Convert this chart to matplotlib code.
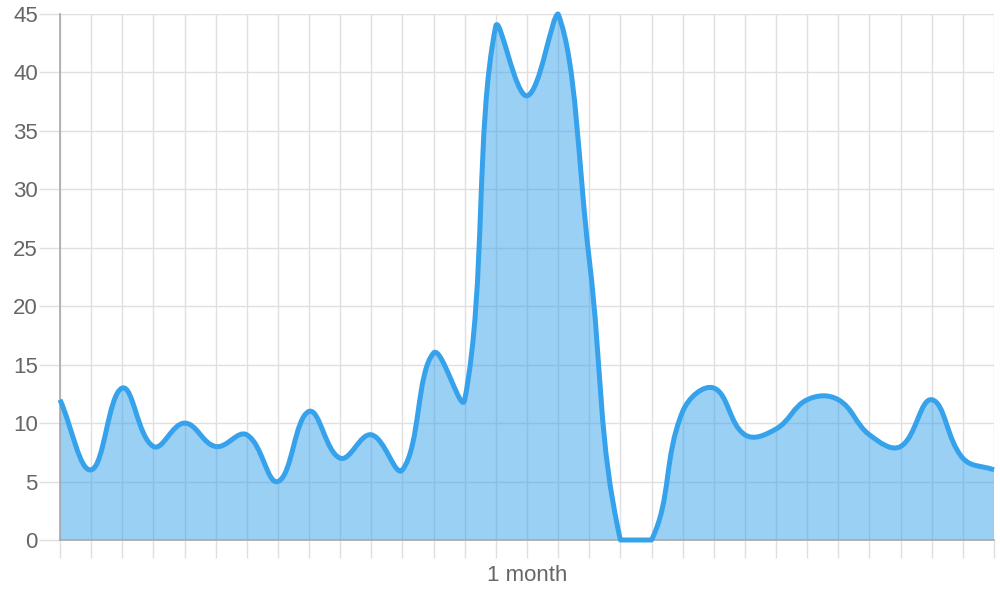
import numpy as np
import matplotlib
matplotlib.use("Agg")
import matplotlib.pyplot as plt
from matplotlib.path import Path
from matplotlib.patches import PathPatch

plt.rcParams['font.family'] = ['Liberation Sans', 'DejaVu Sans']

# Daily values (31 days)
days = list(range(31))
values = [12, 6, 13, 8, 10, 8, 9, 5, 11, 7, 9, 6, 16, 12, 44, 38, 45, 24,
          0, 0, 11, 13, 9, 9.5, 12, 12, 9, 8, 12, 7, 6]
y_ticks = [0, 5, 10, 15, 20, 25, 30, 35, 40, 45]
x_label_day = 15
x_label_text = "1 month"

line_color = '#36a2eb'
grid_color = '#e0e0e0'
axis_color = '#a8a8a8'
text_color = '#666666'

fig = plt.figure(figsize=(10, 6), dpi=100)
ax = fig.add_axes([0.06, 0.1, 0.934, 0.87667])
ax.set_xlim(0, 30)
ax.set_ylim(0, 45)

# pixel scale so the spline tension behaves like it does on screen
sx = 934 / 30
sy = 526 / 45


def spline_path(xs, ys, tension=0.4):
    px = np.asarray(xs, float) * sx
    py = np.asarray(ys, float) * sy
    n = len(px)
    cp_prev = np.zeros((n, 2))
    cp_next = np.zeros((n, 2))
    for i in range(n):
        a = max(i - 1, 0)
        b = min(i + 1, n - 1)
        d01 = np.hypot(px[i] - px[a], py[i] - py[a])
        d12 = np.hypot(px[b] - px[i], py[b] - py[i])
        tot = d01 + d12
        s01 = d01 / tot if tot else 0
        s12 = d12 / tot if tot else 0
        fa, fb = tension * s01, tension * s12
        dx, dy = px[b] - px[a], py[b] - py[a]
        cp_prev[i] = (px[i] - fa * dx, py[i] - fa * dy)
        cp_next[i] = (px[i] + fb * dx, py[i] + fb * dy)
    # keep control points inside the chart area
    for cp in (cp_prev, cp_next):
        cp[:, 0] = np.clip(cp[:, 0], 0, 30 * sx)
        cp[:, 1] = np.clip(cp[:, 1], 0, 45 * sy)
    verts = [(px[0], py[0])]
    codes = [Path.MOVETO]
    for i in range(1, n):
        verts += [tuple(cp_next[i - 1]), tuple(cp_prev[i]), (px[i], py[i])]
        codes += [Path.CURVE4] * 3
    verts = np.array(verts)
    verts[:, 0] /= sx
    verts[:, 1] /= sy
    return verts, codes


verts, codes = spline_path(days, values)

# area fill down to zero
fill_verts = np.vstack([verts, [[days[-1], 0], [days[0], 0], [days[0], values[0]]]])
fill_codes = codes + [Path.LINETO, Path.LINETO, Path.CLOSEPOLY]
ax.add_patch(PathPatch(Path(fill_verts, fill_codes), facecolor=line_color,
                       alpha=0.5, edgecolor='none', zorder=2))
ax.add_patch(PathPatch(Path(verts, codes), facecolor='none', edgecolor=line_color,
                       linewidth=3.6, capstyle='butt', joinstyle='round',
                       zorder=3, clip_on=False))

# grid and axes
ax.set_axisbelow(True)
ax.grid(True, color=grid_color, linewidth=1)
ax.set_yticks(y_ticks)
ax.set_xticks(days)
ax.set_xticklabels([x_label_text if d == x_label_day else '' for d in days])
ax.tick_params(axis='y', length=15, width=1, color=grid_color, pad=1,
               labelsize=16, labelcolor=text_color)
ax.tick_params(axis='x', length=13, width=1, color=grid_color, pad=5,
               labelsize=16, labelcolor=text_color)
ax.yaxis.get_major_ticks()[0].tick1line.set_color(axis_color)
ax.xaxis.get_major_ticks()[0].tick1line.set_color(axis_color)
for side in ('top', 'right'):
    ax.spines[side].set_visible(False)
for side in ('left', 'bottom'):
    ax.spines[side].set_color(axis_color)
    ax.spines[side].set_linewidth(1.2)

fig.savefig('out.png', dpi=100)
